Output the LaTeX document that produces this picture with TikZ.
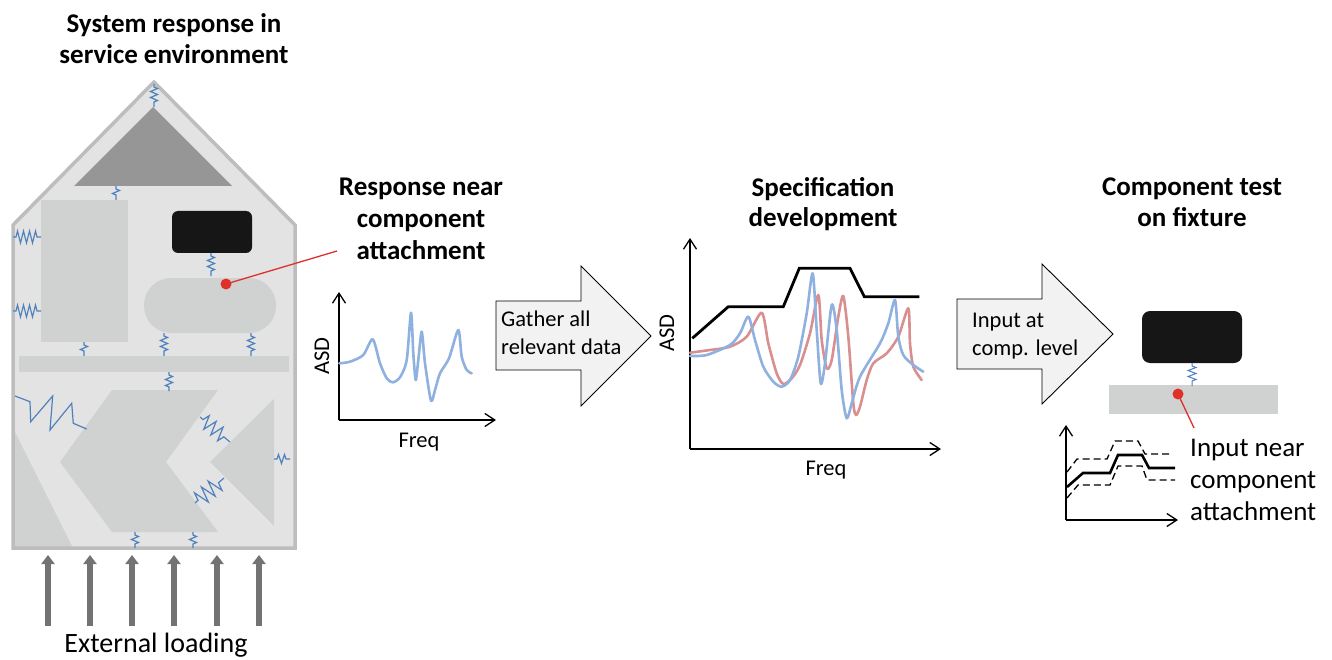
\documentclass[tikz,border=0pt]{standalone}
\usepackage{fontspec}
\setmainfont{Carlito}
\usetikzlibrary{arrows.meta,decorations.pathmorphing}

\definecolor{wallgrey}{HTML}{BDBDBD}
\definecolor{bodyfill}{HTML}{E3E3E3}
\definecolor{partfill}{HTML}{D0D1D1}
\definecolor{roofpart}{HTML}{969696}
\definecolor{blackpart}{HTML}{161616}
\definecolor{springblue}{HTML}{4F81BD}
\definecolor{markred}{HTML}{E0302A}
\definecolor{curveblue}{HTML}{8EB1E0}
\definecolor{curvered}{HTML}{D98F8F}
\definecolor{loadgrey}{HTML}{737373}
\definecolor{arrowfill}{HTML}{F2F2F2}

\tikzset{
  spring/.style={draw=springblue, line width=1.2pt, line join=miter,
    decorate, decoration={zigzag, amplitude=#1, segment length=6pt,
    pre length=3pt, post length=3pt}},
  spring/.default=3.5pt,
  widespring/.style={draw=springblue, line width=1.2pt, line join=miter,
    decorate, decoration={zigzag, amplitude=#1, segment length=9pt,
    pre length=4pt, post length=4pt}},
  part/.style={fill=partfill, draw=none},
  redmark/.style={draw=markred, line width=1.3pt},
  reddot/.style={fill=markred, draw=none},
  axis/.style={draw=black, line width=1.3pt, -{Straight Barb[length=10pt,width=13pt]}},
  asdcurve/.style={line width=2.6pt, line cap=round, line join=round},
  load/.style={draw=loadgrey, line width=5.5pt, -{Triangle[length=9pt,width=13pt]}},
  blockarrow/.style={draw=black, fill=arrowfill, line width=0.9pt, line join=miter},
  title/.style={font=\bfseries\fontsize{27}{31}\selectfont, align=center, inner sep=0pt, anchor=base},
  label/.style={font=\fontsize{22.5}{28}\selectfont, align=left, inner sep=0pt, anchor=base west},
  note/.style={font=\fontsize{27}{32}\selectfont, align=left, inner sep=0pt, anchor=base west},
  axislabel/.style={font=\fontsize{22.5}{27}\selectfont, inner sep=0pt},
}

\begin{document}
\begin{tikzpicture}[x=1pt,y=-1pt]
\useasboundingbox (0,0) rectangle (1332,660);

% ---------- system in its service environment ----------
\fill[bodyfill] (13,225) -- (154,82) -- (295,225) -- (295,548) -- (13,548) -- cycle;
\fill[roofpart] (153,107) -- (232,186) -- (74,186) -- cycle;
\fill[part] (41,200) rectangle (128,342);
\fill[blackpart, rounded corners=6pt] (172,211) rectangle (252,253);
\fill[part, rounded corners=27pt] (144,278) rectangle (276,333);
\fill[part] (19,356) rectangle (289,372);
\fill[part] (112,390) -- (218,390) -- (166,462) -- (218,532) -- (112,532) -- (60,462) -- cycle;
\fill[part] (274,399) -- (210,462) -- (274,526) -- cycle;
\fill[part] (13,428) -- (73,548) -- (13,548) -- cycle;
\draw[wallgrey, line width=3.5pt, line join=miter]
  (13,225) -- (154,82) -- (295,225) -- (295,548) -- (13,548) -- cycle;

% springs joining the parts
\draw[spring] (154,84) -- (154,107);
\draw[spring] (116,186) -- (116,200);
\draw[spring] (211,253) -- (211,276);
\draw[spring=6pt] (13,237) -- (41,237);
\draw[spring=6pt] (13,311) -- (41,311);
\draw[spring] (84,342) -- (84,356);
\draw[spring] (164,333) -- (164,356);
\draw[spring] (251,333) -- (251,356);
\draw[spring] (169,372) -- (169,391);
\draw[widespring=7pt] (200,417) -- (230,442);
\draw[widespring=8pt] (195,503) -- (224,478);
\draw[spring=4.5pt] (274,459) -- (290,459);
\draw[spring] (135,532) -- (135,548);
\draw[spring] (193,532) -- (193,548);
\draw[draw=springblue, line width=1.2pt, line join=miter]
  (15,396) -- (30,401.7) -- (30.7,421.7) -- (52.7,396) -- (50,430)
  -- (71.7,403.3) -- (73.3,423.3) -- (86.7,429);

% measurement point on the component mount
\coordinate (mountpt) at (226,284);
\fill[reddot] (mountpt) circle (5.5pt);
\coordinate (mountlabel) at (337,251);
\draw[redmark] (mountpt) -- (mountlabel);

% external loading
\foreach \x/\n in {48/1,90/2,132/3,174/4,217/5,259/6}{
  \coordinate (lb\n) at (\x,626);
  \coordinate (lt\n) at (\x,555);
  \draw[load] (lb\n) -- (lt\n);
}
\node[font=\fontsize{28}{32}\selectfont, inner sep=0pt, anchor=base] (extload) at (156,652) {External loading};

% titles (anchored at the baseline of their last line)
\node[title] (t1) at (174,64) {System response in\\service environment};
\node[title, font=\bfseries\fontsize{27}{32}\selectfont] (t2) at (421,259) {Response near\\component\\attachment};
\node[title, font=\bfseries\fontsize{27}{30}\selectfont] (t3) at (823,227) {Specification\\development};
\node[title] (t4) at (1192,227) {Component test\\on fixture};

% ---------- single response ----------
\coordinate (o1) at (339,420);
\coordinate (y1) at (339,292);
\coordinate (x1) at (496,420);
\draw[axis] (o1) -- (y1);
\draw[axis] (o1) -- (x1);
\node[axislabel, rotate=90] (asd1) at (322,356) {ASD};
\node[axislabel, anchor=base] (freq1) at (419,447) {Freq};
\draw[asdcurve, curveblue] plot[smooth, tension=0.45] coordinates {
  (339.3,363.3) (350,361.7) (363.3,355) (372.7,339.3) (380,363.3) (386.7,378.3)
  (392.7,382.3) (400,377.3) (406.7,360) (411,312.7) (413.3,353.3) (415.7,380)
  (418.3,360) (421.7,331.7) (425,363.3) (431,400.7) (435,390) (440,373.3)
  (449,358.3) (458.3,330) (461.7,356.7) (466.7,370) (471.7,373.3)};

% ---------- block arrows ----------
\draw[blockarrow] (496,301) -- (581,301) -- (581,266) -- (651,336) -- (581,406)
  -- (581,370) -- (496,370) -- cycle;
\node[label] (gather) at (501,354) {Gather all\\relevant data};

\draw[blockarrow] (957,299) -- (1042,299) -- (1042,264) -- (1113,334) -- (1042,404)
  -- (1042,369) -- (957,369) -- cycle;
\node[label] (input) at (972,355) {Input at\\comp. level};

% ---------- specification envelope ----------
\coordinate (o2) at (690,449);
\coordinate (y2) at (690,238);
\coordinate (x2) at (941,449);
\draw[axis] (o2) -- (y2);
\draw[axis] (o2) -- (x2);
\node[axislabel, rotate=90] (asd2) at (667,333) {ASD};
\node[axislabel, anchor=base] (freq2) at (826,475) {Freq};
\draw[asdcurve, curvered] plot[smooth, tension=0.45] coordinates {
  (690,352.7) (710,350) (730,346.7) (746.7,336.7) (761.7,312.7) (768.3,343.3)
  (776.7,373.3) (783.3,384) (791.7,378.3) (800,365) (810,333.3) (818.3,295)
  (821.7,340) (826.7,368.3) (831.7,360) (838.3,316.7) (843.3,296) (848.3,336.7)
  (853.3,403.3) (856,415) (860,406.7) (866.7,380) (873.3,363.3) (886.7,353.3)
  (898.3,336.7) (908.3,308.3) (910,343.3) (913.3,366.7) (921.7,380)};
\draw[asdcurve, curveblue] plot[smooth, tension=0.45] coordinates {
  (690,356) (706.7,355) (730,345) (740,333.3) (748.3,316.7) (755,340)
  (763.3,366.7) (773.3,381.7) (781.7,386.7) (790,380) (798.3,356.7) (806.7,313.3)
  (812.7,273.3) (816.7,330) (820.7,383.3) (825,363.3) (831.7,305) (836.7,330)
  (841.7,390) (846.7,418.3) (851.7,403.3) (860,376.7) (880,343.3) (888.3,323.3)
  (895,300) (898.3,336.7) (903.3,355) (913.3,365) (923.3,371.7)};
\draw[line width=2.8pt, line join=miter] (692.3,338.3) -- (728.3,306.7) -- (783.3,306.7)
  -- (799.3,268.3) -- (850,268.3) -- (864.3,296.7) -- (919.3,296.7);

% ---------- component on test fixture ----------
\fill[blackpart, rounded corners=8pt] (1142,311) rectangle (1242,363);
\fill[part] (1109,385) rectangle (1278,414);
\draw[spring=4pt, line width=1pt] (1192,363) -- (1192,386);
\coordinate (fixpt) at (1178,394);
\coordinate (fixlabel) at (1194,428);
\draw[redmark] (fixpt) -- (fixlabel);
\fill[reddot] (fixpt) circle (5.5pt);

\coordinate (o3) at (1066,520);
\coordinate (y3) at (1066,425);
\coordinate (x3) at (1178,520);
\draw[axis] (o3) -- (y3);
\draw[axis] (o3) -- (x3);
\draw[line width=2.6pt, line join=miter] (1067,487) -- (1083,473) -- (1110,473) -- (1118,455)
  -- (1142,455) -- (1149,468) -- (1175,468);
\draw[line width=1.3pt, dash pattern=on 7pt off 4pt] (1067,472) -- (1077,459) -- (1107,459)
  -- (1115,441) -- (1138,441) -- (1145,454) -- (1173,454);
\draw[line width=1.3pt, dash pattern=on 7pt off 4pt] (1067,498) -- (1078,485) -- (1110,485)
  -- (1118,466) -- (1142,466) -- (1147,480) -- (1175,480);
\node[note] (inputnear) at (1190,520) {Input near\\component\\attachment};

\end{tikzpicture}
\end{document}
